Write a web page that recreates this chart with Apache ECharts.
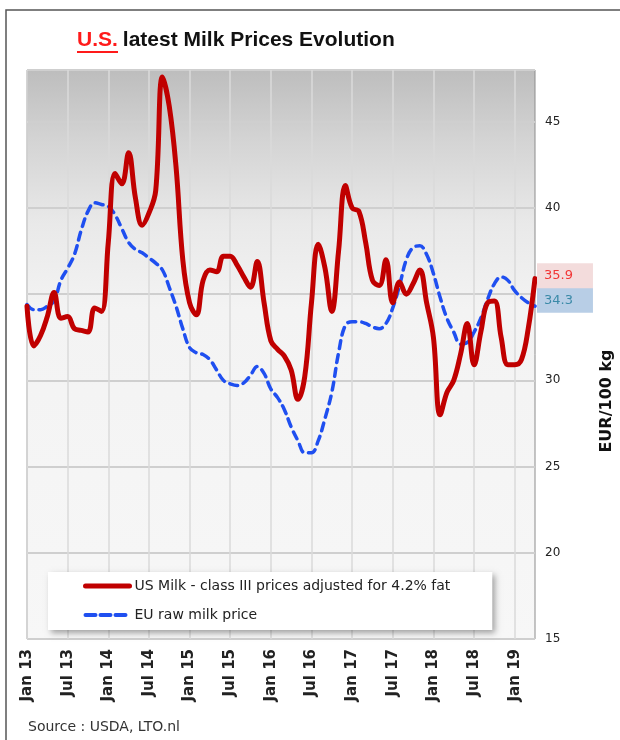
<!DOCTYPE html>
<html>
<head>
<meta charset="utf-8">
<script src="https://cdn.jsdelivr.net/npm/echarts@6/dist/echarts.min.js"></script>
<style>
  html, body { margin: 0; padding: 0; background: #fff; }
  #main { width: 620px; height: 740px; }
</style>
</head>
<body>
<div id="main"></div>
<script type="text/javascript">
    // month labels Jan 13 .. Apr 19
    var monthNames = ['Jan', 'Feb', 'Mar', 'Apr', 'May', 'Jun', 'Jul', 'Aug', 'Sep', 'Oct', 'Nov', 'Dec'];
    var years = ['13', '14', '15', '16', '17', '18', '19'];
    var monthCount = 76;

    // US Milk - class III prices adjusted for 4.2% fat (EUR/100 kg)
    var usMilk = [
        34.3, 32.0, 32.6, 33.7, 35.1, 33.6, 33.7, 33.0, 32.9, 32.8, 34.2, 34.0,
        38.0, 42.0, 41.4, 43.2, 40.6, 39.0, 39.7, 41.0, 47.6, 45.9, 42.4, 37.0,
        34.5, 33.8, 35.8, 36.4, 36.3, 37.2, 37.2, 36.7, 36.0, 35.4, 36.9, 34.5,
        32.3, 31.8, 31.4, 30.6, 28.9, 30.2, 34.5, 37.9, 36.5, 34.0, 37.5, 41.3,
        40.0, 39.8, 38.0, 35.8, 35.5, 37.0, 34.5, 35.7, 35.0, 35.6, 36.4, 34.5,
        32.5, 28.0, 29.3, 30.0, 31.5, 33.3, 30.9, 32.8, 34.5, 34.6, 32.5, 30.9,
        30.9, 31.2, 33.0, 35.9
    ];
    // EU raw milk price (EUR/100 kg)
    var euMilk = [
        34.4, 34.1, 34.1, 34.3, 34.6, 35.8, 36.5, 37.3, 38.7, 39.8, 40.3, 40.2,
        40.1, 39.6, 38.8, 38.0, 37.6, 37.4, 37.1, 36.8, 36.4, 35.4, 34.3, 33.0,
        31.9, 31.6, 31.5, 31.2, 30.6, 30.0, 29.8, 29.7, 29.85, 30.3, 30.8, 30.4,
        29.5, 29.0, 28.3, 27.3, 26.5, 25.8, 25.8, 26.5, 27.8, 29.3, 31.6, 33.2,
        33.4, 33.4, 33.3, 33.1, 33.0, 33.3, 34.2, 35.5, 37.0, 37.7, 37.8, 37.3,
        36.2, 34.8, 33.6, 32.8, 32.1, 32.2, 32.8, 33.6, 34.7, 35.6, 36.0, 35.8,
        35.2, 34.8, 34.5, 34.3
    ];
    var seriesNames = ['US Milk - class III prices adjusted for 4.2% fat', 'EU raw milk price'];

    var categories = [];
    for (var i = 0; i < monthCount; i++) {
        categories.push(monthNames[i % 12] + ' ' + years[Math.floor(i / 12)]);
    }

    var myChart = echarts.init(document.getElementById('main'));
    myChart.setOption({
        animation: false,
        title: {
            text: '{u|U.S.} {t|latest Milk Prices Evolution}',
            left: 77,
            top: 30,
            padding: 0,
            textStyle: {
                rich: {
                    u: { color: '#ff1a1a', fontSize: 21, fontWeight: 'bold', fontFamily: 'Liberation Sans', textShadowColor: '#ff1a1a', textShadowBlur: 0, textShadowOffsetX: 0.5 },
                    t: { color: '#111', fontSize: 21, fontWeight: 'bold', fontFamily: 'Liberation Sans', textShadowColor: '#111', textShadowBlur: 0, textShadowOffsetX: 0.5 }
                }
            }
        },
        graphic: [
            { type: 'rect', shape: { x: 6, y: 10, width: 700, height: 800 }, style: { fill: 'none', stroke: '#555', lineWidth: 1.5 }, z: -1 },
            { type: 'rect', shape: { x: 77, y: 51, width: 41, height: 2 }, style: { fill: '#ff1a1a' } },
            { type: 'text', x: 28, y: 727, style: { text: 'Source : USDA, LTO.nl', fill: '#333', font: '14px "DejaVu Sans"', verticalAlign: 'middle' } },
            { type: 'text', x: 607, y: 401, rotation: Math.PI / 2, style: { text: 'EUR/100 kg', fill: '#111', font: 'bold 16px "DejaVu Sans"', align: 'center', verticalAlign: 'middle' } }
        ],
        grid: {
            left: 27,
            right: 85,
            top: 70,
            bottom: 101,
            show: true,
            borderColor: '#8c8c8c',
            borderWidth: 1,
            backgroundColor: {
                type: 'linear', x: 0, y: 0, x2: 0, y2: 1,
                colorStops: [
                    { offset: 0, color: '#bdbdbd' },
                    { offset: 0.12, color: '#d3d3d3' },
                    { offset: 0.27, color: '#e9e9e9' },
                    { offset: 0.42, color: '#f3f3f3' },
                    { offset: 1, color: '#f7f7f7' }
                ]
            }
        },
        legend: {
            orient: 'vertical',
            left: 48,
            top: 572,
            padding: [7, 42, 8, 35],
            itemGap: 15,
            itemWidth: 44,
            itemHeight: 14,
            backgroundColor: '#fff',
            shadowColor: 'rgba(0,0,0,0.35)',
            shadowBlur: 6,
            shadowOffsetX: 3,
            shadowOffsetY: 3,
            itemStyle: { opacity: 0 },
            textStyle: { fontFamily: 'DejaVu Sans', fontSize: 14, color: '#222' },
            data: [
                { name: seriesNames[0], lineStyle: { width: 5, color: '#c00000', cap: 'round' } },
                { name: seriesNames[1], lineStyle: { width: 4, color: '#1f4ff0', type: [10, 5], cap: 'round' } }
            ]
        },
        xAxis: {
            type: 'category',
            boundaryGap: false,
            data: categories,
            axisLine: { show: false },
            axisTick: { show: false },
            axisLabel: {
                interval: 5,
                rotate: 90,
                margin: 10,
                fontFamily: 'DejaVu Sans',
                fontWeight: 'bold',
                fontSize: 15,
                color: '#222'
            },
            splitLine: { show: true, interval: 5, lineStyle: { color: '#dadada', width: 1.5 } }
        },
        yAxis: {
            type: 'value',
            position: 'right',
            min: 15,
            max: 48,
            interval: 5,
            axisLine: { show: false },
            axisTick: { show: false },
            axisLabel: {
                showMaxLabel: false,
                margin: 10,
                fontFamily: 'DejaVu Sans',
                fontSize: 12,
                color: '#222'
            },
            splitLine: { lineStyle: { color: '#cfcfcf', width: 2 } }
        },
        series: [
            {
                name: seriesNames[0],
                type: 'line',
                smooth: 0.4,
                symbol: 'none',
                data: usMilk,
                color: '#c00000',
                lineStyle: { width: 5, color: '#c00000', cap: 'round', join: 'round' },
                z: 3,
                endLabel: {
                    show: true,
                    formatter: function (p) { return p.value.toFixed(1); },
                    distance: 2,
                    offset: [0, -3],
                    color: '#f23535',
                    fontFamily: 'DejaVu Sans',
                    fontSize: 13,
                    backgroundColor: '#f3dcdc',
                    padding: [6, 20, 6, 7]
                }
            },
            {
                name: seriesNames[1],
                type: 'line',
                smooth: 0.4,
                symbol: 'none',
                data: euMilk,
                color: '#1f4ff0',
                lineStyle: { width: 3.5, color: '#1f4ff0', type: [8, 6], cap: 'round' },
                z: 2,
                endLabel: {
                    show: true,
                    formatter: function (p) { return p.value.toFixed(1); },
                    distance: 2,
                    offset: [0, -6],
                    color: '#3b8aa8',
                    fontFamily: 'DejaVu Sans',
                    fontSize: 13,
                    backgroundColor: '#b8cee6',
                    padding: [6, 20, 6, 7]
                }
            }
        ]
    });
</script>
</body>
</html>
